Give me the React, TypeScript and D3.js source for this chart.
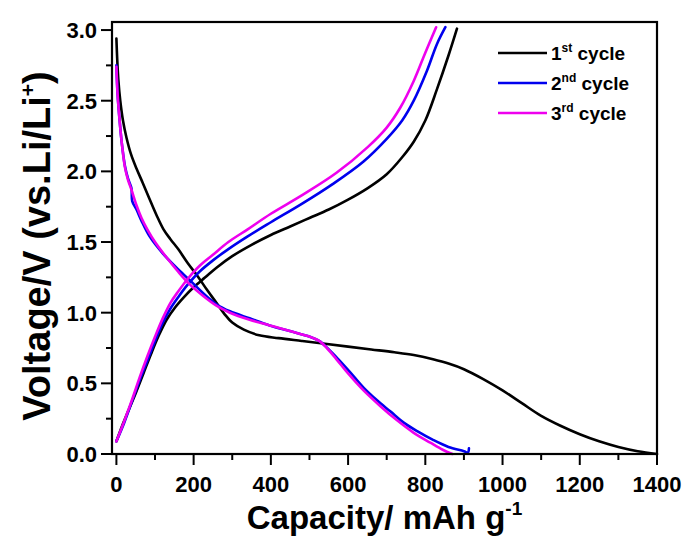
// charge/discharge curves, drawn with d3 scales in jsx
import React from 'react';
import * as d3 from 'd3';

// capacity (mAh/g), voltage (V)
const cycle1Discharge: [number, number][] = [
  [0, 2.94], [2, 2.8], [5, 2.65], [10, 2.5], [17, 2.36], [26, 2.24], [38, 2.12], [52, 2.02], [68, 1.92],
  [85, 1.81], [104, 1.69], [122, 1.59], [140, 1.52], [160, 1.45], [185, 1.35], [210, 1.26], [235, 1.16],
  [259, 1.07], [280, 0.99], [300, 0.93], [330, 0.88], [370, 0.84], [420, 0.82], [480, 0.8], [540, 0.78],
  [600, 0.76], [660, 0.74], [720, 0.72], [770, 0.7], [820, 0.67], [860, 0.64], [900, 0.6], [950, 0.53],
  [1000, 0.45], [1050, 0.36], [1100, 0.27], [1150, 0.2], [1200, 0.14], [1250, 0.09], [1300, 0.05],
  [1350, 0.02], [1400, 0.0],
];
const cycle1Charge: [number, number][] = [
  [0, 0.09], [15, 0.2], [30, 0.3], [50, 0.43], [70, 0.57], [90, 0.71], [110, 0.84], [130, 0.95], [150, 1.03],
  [175, 1.11], [200, 1.18], [230, 1.25], [260, 1.32], [300, 1.4], [350, 1.48], [400, 1.55], [450, 1.61],
  [500, 1.67], [550, 1.73], [600, 1.8], [650, 1.88], [700, 1.98], [740, 2.1], [770, 2.21], [800, 2.36],
  [830, 2.58], [860, 2.82], [882, 3.01],
];
const cycle2Discharge: [number, number][] = [
  [0, 2.75], [3, 2.55], [8, 2.37], [14, 2.2], [22, 2.04], [30, 1.95], [39, 1.88], [41, 1.79], [52, 1.73],
  [65, 1.65], [86, 1.54], [120, 1.42], [155, 1.32], [190, 1.23], [224, 1.14], [259, 1.06], [294, 1.01],
  [345, 0.96], [397, 0.91], [449, 0.87], [501, 0.83], [525, 0.8], [550, 0.74], [575, 0.67], [605, 0.58],
  [640, 0.47], [675, 0.38], [710, 0.3], [745, 0.22], [780, 0.16], [820, 0.1], [860, 0.05], [900, 0.02],
  [910, 0.01], [913, 0.04],
];
const cycle2Charge: [number, number][] = [
  [0, 0.09], [20, 0.22], [40, 0.37], [60, 0.52], [80, 0.66], [100, 0.8], [120, 0.93], [140, 1.03],
  [160, 1.11], [185, 1.2], [215, 1.29], [250, 1.37], [290, 1.45], [340, 1.54], [400, 1.64], [480, 1.77],
  [560, 1.91], [640, 2.07], [700, 2.23], [740, 2.36], [770, 2.5], [804, 2.71], [830, 2.9], [852, 3.02],
];
const cycle3Discharge: [number, number][] = [
  [0, 2.74], [3, 2.55], [8, 2.37], [14, 2.2], [22, 2.03], [30, 1.94], [39, 1.87], [52, 1.76], [65, 1.67],
  [80, 1.59], [100, 1.5], [130, 1.39], [160, 1.29], [190, 1.2], [224, 1.12], [259, 1.05], [294, 1.0],
  [345, 0.95], [397, 0.91], [449, 0.87], [501, 0.83], [525, 0.8], [545, 0.75], [570, 0.67], [600, 0.57],
  [640, 0.45], [683, 0.34], [726, 0.24], [770, 0.15], [813, 0.08], [845, 0.03], [870, 0.0],
];
const cycle3Charge: [number, number][] = [
  [0, 0.09], [20, 0.23], [40, 0.38], [60, 0.54], [80, 0.69], [100, 0.83], [120, 0.96], [140, 1.07],
  [160, 1.15], [185, 1.24], [215, 1.33], [250, 1.41], [290, 1.5], [340, 1.59], [400, 1.7], [480, 1.83],
  [570, 1.99], [650, 2.17], [700, 2.31], [735, 2.45], [770, 2.64], [800, 2.84], [828, 3.02],
];

const seriesNames = ['1', '2', '3'];
const seriesSups = ['st', 'nd', 'rd'];
const seriesColors = ['#000000', '#0000ee', '#ee00ee'];
const seriesData = [
  [cycle1Discharge, cycle1Charge],
  [cycle2Discharge, cycle2Charge],
  [cycle3Discharge, cycle3Charge],
];

const xTicks = [0, 200, 400, 600, 800, 1000, 1200, 1400];
const xMinor = d3.range(100, 1400, 200);
const yTicks = [0, 0.5, 1.0, 1.5, 2.0, 2.5, 3.0];
const yMinor = d3.range(0.25, 3.0, 0.5);

const W = 694, H = 544;
const left = 112, right = 657, top = 22, bottom = 454;
const font = 'Arial, "Liberation Sans", sans-serif';

export default function App() {
  // 0 sits a bit right of the left frame, 3.0 a bit below the top frame
  const x = d3.scaleLinear().domain([-11.4, 1400]).range([left, right]);
  const y = d3.scaleLinear().domain([0, 3.057]).range([bottom, top]);

  const line = d3.line<[number, number]>()
    .x(d => x(d[0]))
    .y(d => y(d[1]))
    .curve(d3.curveCatmullRom.alpha(0.5));

  return (
    <svg width={W} height={H} style={{ position: 'absolute', left: 0, top: 0, background: '#fff' }}
      fontFamily={font} fontWeight="bold">
      {/* curves */}
      <g fill="none" strokeWidth={2.6} strokeLinejoin="round" strokeLinecap="round">
        {seriesData.map((pair, i) =>
          pair.map((d, j) => <path key={i + '-' + j} d={line(d) || ''} stroke={seriesColors[i]} />)
        )}
      </g>

      {/* frame */}
      <rect x={left} y={top} width={right - left} height={bottom - top} fill="none" stroke="#000" strokeWidth={2.2} />

      {/* ticks */}
      <g stroke="#000" strokeWidth={2}>
        {xTicks.map(t => <line key={'xt' + t} x1={x(t)} x2={x(t)} y1={bottom} y2={bottom + 11} />)}
        {xMinor.map(t => <line key={'xm' + t} x1={x(t)} x2={x(t)} y1={bottom} y2={bottom + 6} />)}
        {yTicks.map(t => <line key={'yt' + t} x1={left - 11} x2={left} y1={y(t)} y2={y(t)} />)}
        {yMinor.map(t => <line key={'ym' + t} x1={left - 6} x2={left} y1={y(t)} y2={y(t)} />)}
      </g>
      <g fontSize={22} fill="#000">
        {xTicks.map(t => (
          <text key={'xl' + t} x={x(t)} y={492} textAnchor="middle">{t}</text>
        ))}
        {yTicks.map(t => (
          <text key={'yl' + t} x={97} y={y(t)} dy="0.36em" textAnchor="end">{d3.format('.1f')(t)}</text>
        ))}
      </g>

      {/* axis titles */}
      <text x={(left + right) / 2} y={529} textAnchor="middle" fontSize={33} fill="#000">
        Capacity/ mAh g<tspan dy={-14} fontSize={19}>-1</tspan>
      </text>
      <text transform={`translate(50,246) rotate(-90)`} textAnchor="middle" fontSize={38} fill="#000">
        Voltage/V (vs.Li/Li<tspan dy={-15} fontSize={21}>+</tspan><tspan dy={15}>)</tspan>
      </text>

      {/* legend */}
      <g fontSize={19} fill="#000">
        {seriesNames.map((n, i) => {
          const ly = 53 + i * 30;
          return (
            <g key={'lg' + i}>
              <line x1={498} x2={547} y1={ly} y2={ly} stroke={seriesColors[i]} strokeWidth={2.6} />
              <text x={551} y={ly + 7}>
                {n}<tspan dy={-8} fontSize={12}>{seriesSups[i]}</tspan><tspan dy={8}> cycle</tspan>
              </text>
            </g>
          );
        })}
      </g>
    </svg>
  );
}
